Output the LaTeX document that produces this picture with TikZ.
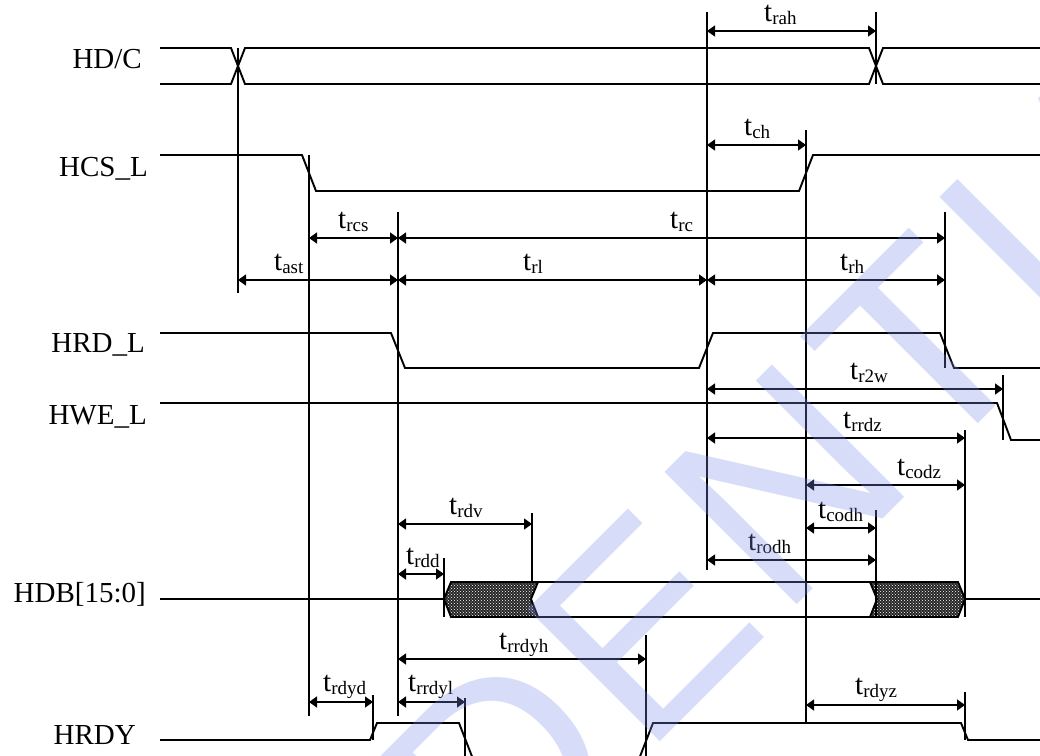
\documentclass[tikz,border=0pt]{standalone}
\usepackage{fontspec}
\setmainfont{Liberation Serif}
\newfontfamily\wmfont{Liberation Sans}
\usetikzlibrary{arrows.meta,patterns}
\newcommand\tlab[1]{t\raisebox{-3pt}{\fontsize{19}{19}\selectfont #1}}
\definecolor{wmblue}{RGB}{125,145,238}
\begin{document}
\begin{tikzpicture}[x=1pt,y=-1pt,
  sig/.style={line width=1.9pt, line join=miter},
  guide/.style={line width=1.5pt},
  dimarrow/.style={line width=1.4pt,{Triangle[length=8pt,width=11pt]}-{Triangle[length=8pt,width=11pt]}},
  lab/.style={font=\fontsize{29}{29}\selectfont, anchor=base east, inner sep=0pt},
  tl/.style={font=\fontsize{29}{29}\selectfont, anchor=base west, inner sep=0pt},
  wm/.style={font=\wmfont\fontsize{272}{272}\selectfont, text=wmblue, text opacity=0.3, anchor=base, inner sep=0pt}]
\useasboundingbox (0,0) rectangle (1040,755);
\clip (0,0) rectangle (1040,755);
\fill[white] (0,0) rectangle (1040,755);

% signal names
\node[lab] (nHDC) at (142,68) {HD/C};
\node[lab] (nHCS) at (148,176) {HCS\_L};
\node[lab] (nHRD) at (145,352) {HRD\_L};
\node[lab] (nHWE) at (147,424) {HWE\_L};
\node[lab] (nHDB) at (146,602) {HDB[15:0]};
\node[lab] (nHRDY) at (136,744) {HRDY};

% HDB hatched regions
\fill[black!85] (444,599)--(451,582)--(538,582)--(531,599)--(538,617)--(451,617)--cycle;
\fill[pattern=crosshatch dots, pattern color=white] (444,599)--(451,582)--(538,582)--(531,599)--(538,617)--(451,617)--cycle;
\fill[black!85] (870,582)--(958,582)--(965,599)--(958,617)--(870,617)--(877,599)--cycle;
\fill[pattern=crosshatch dots, pattern color=white] (870,582)--(958,582)--(965,599)--(958,617)--(870,617)--(877,599)--cycle;

% signals
\draw[sig] (160,48)--(231,48)--(245,84)--(869,84)--(883,48)--(1040,48);
\draw[sig] (160,84)--(231,84)--(245,48)--(869,48)--(883,84)--(1040,84);
\draw[sig] (160,155)--(302,155)--(316,191)--(799,191)--(813,155)--(1040,155);
\draw[sig] (160,333)--(391,333)--(405,368)--(699,368)--(713,333)--(940,333)--(954,368)--(1040,368);
\draw[sig] (160,403)--(997,403)--(1011,440)--(1040,440);
\draw[sig] (160,599)--(444,599)--(451,582)--(958,582)--(965,599)--(1040,599);
\draw[sig] (444,599)--(451,617)--(958,617)--(965,599);
\draw[sig] (538,582)--(531,599)--(538,617);
\draw[sig] (870,582)--(877,599)--(870,617);
\draw[sig] (160,740)--(370,740)--(377,723)--(459,723)--(473,759)--(639,759)--(653,723)--(961,723)--(968,740)--(1040,740);

% guide lines
\draw[guide] (238,48)--(238,293);
\draw[guide] (309,155)--(309,716);
\draw[guide] (398,212)--(398,716);
\draw[guide] (707,12)--(707,570);
\draw[guide] (806,130)--(806,723);
\draw[guide] (876,12)--(876,84);
\draw[guide] (876,510)--(876,617);
\draw[guide] (945,212)--(945,368);
\draw[guide] (1003,375)--(1003,440);
\draw[guide] (965,430)--(965,617);
\draw[guide] (965,692)--(965,740);
\draw[guide] (444,558)--(444,617);
\draw[guide] (532,513)--(532,582);
\draw[guide] (646,635)--(646,760);
\draw[guide] (465,698)--(465,760);
\draw[guide] (373,695)--(373,740);

% dimension arrows
\draw[dimarrow] (707,31)--(876,31);
\draw[dimarrow] (707,145)--(806,145);
\draw[dimarrow] (309,238)--(398,238);
\draw[dimarrow] (398,238)--(945,238);
\draw[dimarrow] (238,280)--(398,280);
\draw[dimarrow] (398,280)--(707,280);
\draw[dimarrow] (707,280)--(945,280);
\draw[dimarrow] (707,389)--(1003,389);
\draw[dimarrow] (707,438)--(965,438);
\draw[dimarrow] (806,485)--(965,485);
\draw[dimarrow] (806,528)--(876,528);
\draw[dimarrow] (707,560)--(876,560);
\draw[dimarrow] (398,524)--(532,524);
\draw[dimarrow] (398,574)--(444,574);
\draw[dimarrow] (398,659)--(646,659);
\draw[dimarrow] (309,702)--(373,702);
\draw[dimarrow] (398,702)--(465,702);
\draw[dimarrow] (806,705)--(965,705);

% timing labels
\node[tl] (lrah) at (764,21) {\tlab{rah}};
\node[tl] (lch) at (744,135) {\tlab{ch}};
\node[tl] (lrcs) at (338,228) {\tlab{rcs}};
\node[tl] (lrc) at (670,228) {\tlab{rc}};
\node[tl] (last) at (274,270) {\tlab{ast}};
\node[tl] (lrl) at (523,270) {\tlab{rl}};
\node[tl] (lrh) at (840,270) {\tlab{rh}};
\node[tl] (lrtw) at (850,379) {\tlab{r2w}};
\node[tl] (lrrdz) at (843,428) {\tlab{rrdz}};
\node[tl] (lcodz) at (897,475) {\tlab{codz}};
\node[tl] (lcodh) at (818,518) {\tlab{codh}};
\node[tl] (lrodh) at (748,550) {\tlab{rodh}};
\node[tl] (lrdv) at (449,514) {\tlab{rdv}};
\node[tl] (lrdd) at (406,564) {\tlab{rdd}};
\node[tl] (lrrdyh) at (499,649) {\tlab{rrdyh}};
\node[tl] (lrdyd) at (323,691) {\tlab{rdyd}};
\node[tl] (lrrdyl) at (408,691) {\tlab{rrdyl}};
\node[tl] (lrdyz) at (855,694) {\tlab{rdyz}};

% watermark (only the letters that fall inside the picture)
\begin{scope}[shift={(987,415)}, rotate=45, transform shape]
\node[wm] (wmD) at (-594.6,0) {D};
\node[wm] (wmE) at (-393.7,0) {E};
\node[wm] (wmN) at (-193,0) {N};
\node[wm] (wmT) at (0,0) {T};
\node[wm] (wmI) at (132.8,0) {I};
\node[wm] (wmA) at (273.3,0) {A};
\end{scope}
\end{tikzpicture}
\end{document}
